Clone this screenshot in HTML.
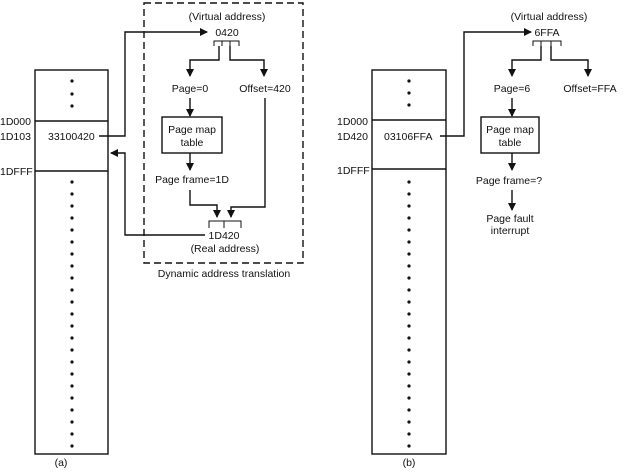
<!DOCTYPE html>
<html><head><meta charset="utf-8"><style>
html,body{margin:0;padding:0;background:#fff;}
svg{display:block;}
text{font-family:"Liberation Sans",sans-serif;font-size:10.5px;fill:#111;}
</style></head><body>
<svg width="627" height="476" viewBox="0 0 627 476" xmlns="http://www.w3.org/2000/svg">
<defs>
<marker id="ah" markerWidth="8" markerHeight="8" refX="7" refY="4" orient="auto" markerUnits="userSpaceOnUse">
<path d="M0,0 L8,4 L0,8 Z" fill="#111"/></marker>
</defs>
<g stroke="#111" stroke-width="1.4" fill="none">
<!-- (a) memory -->
<rect x="35" y="70" width="73" height="384"/>
<line x1="35" y1="121" x2="108" y2="121"/>
<line x1="35" y1="171" x2="108" y2="171"/>
<!-- (b) memory -->
<rect x="372" y="70" width="74" height="384"/>
<line x1="372" y1="120" x2="446" y2="120"/>
<line x1="372" y1="169" x2="446" y2="169"/>
<!-- dashed DAT box -->
<rect x="144" y="3" width="159" height="260" stroke-dasharray="7,4"/>
<!-- (a) connectors -->
<polyline points="99,136 125,136 125,32 207,32" marker-end="url(#ah)"/>
<path d="M214,46 V41 H239 V46 M222,41 V46 M230,41 V46" stroke-width="1"/>
<polyline points="219,46 219,60 190,60 190,76" marker-end="url(#ah)"/>
<polyline points="230,46 230,60 264,60 264,76" marker-end="url(#ah)"/>
<polyline points="190,98 190,116" marker-end="url(#ah)"/>
<rect x="162" y="117" width="60" height="36"/>
<polyline points="190,153 190,170" marker-end="url(#ah)"/>
<polyline points="190,190 190,205 217,205 217,217" marker-end="url(#ah)"/>
<polyline points="265,98 265,207 231,207 231,217" marker-end="url(#ah)"/>
<path d="M209,228 V221 H241 V228 M224,221 V228" stroke-width="1"/>
<polyline points="205,235 125,235 125,153 111,153" marker-end="url(#ah)"/>
<!-- (b) connectors -->
<polyline points="440,136 464,136 464,32 531,32" marker-end="url(#ah)"/>
<path d="M533,46 V41 H561 V46 M541,41 V46 M551,41 V46" stroke-width="1"/>
<polyline points="541,46 541,60 512,60 512,76" marker-end="url(#ah)"/>
<polyline points="551,46 551,60 588,60 588,76" marker-end="url(#ah)"/>
<polyline points="512,98 512,116" marker-end="url(#ah)"/>
<rect x="481" y="117" width="58" height="36"/>
<polyline points="512,153 512,170" marker-end="url(#ah)"/>
<polyline points="512,190 512,210" marker-end="url(#ah)"/>
</g>
<g fill="#111">
<circle cx="72" cy="81" r="1.6"/><circle cx="72" cy="94" r="1.6"/><circle cx="72" cy="106" r="1.6"/>
<circle cx="409" cy="81" r="1.6"/><circle cx="409" cy="93" r="1.6"/><circle cx="409" cy="105" r="1.6"/>
</g>
<g fill="#111" id="dots">
<circle cx="72" cy="182" r="1.6"/><circle cx="72" cy="194" r="1.6"/><circle cx="72" cy="206" r="1.6"/><circle cx="72" cy="218" r="1.6"/><circle cx="72" cy="230" r="1.6"/><circle cx="72" cy="242" r="1.6"/><circle cx="72" cy="254" r="1.6"/><circle cx="72" cy="266" r="1.6"/><circle cx="72" cy="278" r="1.6"/><circle cx="72" cy="290" r="1.6"/><circle cx="72" cy="302" r="1.6"/><circle cx="72" cy="314" r="1.6"/><circle cx="72" cy="326" r="1.6"/><circle cx="72" cy="338" r="1.6"/><circle cx="72" cy="350" r="1.6"/><circle cx="72" cy="362" r="1.6"/><circle cx="72" cy="374" r="1.6"/><circle cx="72" cy="386" r="1.6"/><circle cx="72" cy="398" r="1.6"/><circle cx="72" cy="410" r="1.6"/><circle cx="72" cy="422" r="1.6"/><circle cx="72" cy="434" r="1.6"/><circle cx="72" cy="446" r="1.6"/>
</g>
<use href="#dots" x="337"/>
<!-- labels (a) -->
<text x="0" y="125">1D000</text>
<text x="0" y="140">1D103</text>
<text x="0" y="175">1DFFF</text>
<text x="48" y="140">33100420</text>
<text x="227" y="20" text-anchor="middle">(Virtual address)</text>
<text x="227" y="36" text-anchor="middle">0420</text>
<text x="190" y="92" text-anchor="middle">Page=0</text>
<text x="265" y="92" text-anchor="middle">Offset=420</text>
<text x="192" y="133" text-anchor="middle">Page map</text>
<text x="192" y="146" text-anchor="middle">table</text>
<text x="192" y="183" text-anchor="middle">Page frame=1D</text>
<text x="224" y="239" text-anchor="middle">1D420</text>
<text x="225" y="252" text-anchor="middle">(Real address)</text>
<text x="224" y="277" text-anchor="middle">Dynamic address translation</text>
<text x="61" y="466" text-anchor="middle">(a)</text>
<!-- labels (b) -->
<text x="337" y="125">1D000</text>
<text x="337" y="140">1D420</text>
<text x="337" y="174">1DFFF</text>
<text x="384" y="140">03106FFA</text>
<text x="549" y="20" text-anchor="middle">(Virtual address)</text>
<text x="547" y="36" text-anchor="middle">6FFA</text>
<text x="512" y="92" text-anchor="middle">Page=6</text>
<text x="590" y="92" text-anchor="middle">Offset=FFA</text>
<text x="510" y="133" text-anchor="middle">Page map</text>
<text x="510" y="146" text-anchor="middle">table</text>
<text x="509" y="184" text-anchor="middle">Page frame=?</text>
<text x="510" y="222" text-anchor="middle">Page fault</text>
<text x="510" y="234" text-anchor="middle">interrupt</text>
<text x="409" y="466" text-anchor="middle">(b)</text>
</svg>
</body></html>
